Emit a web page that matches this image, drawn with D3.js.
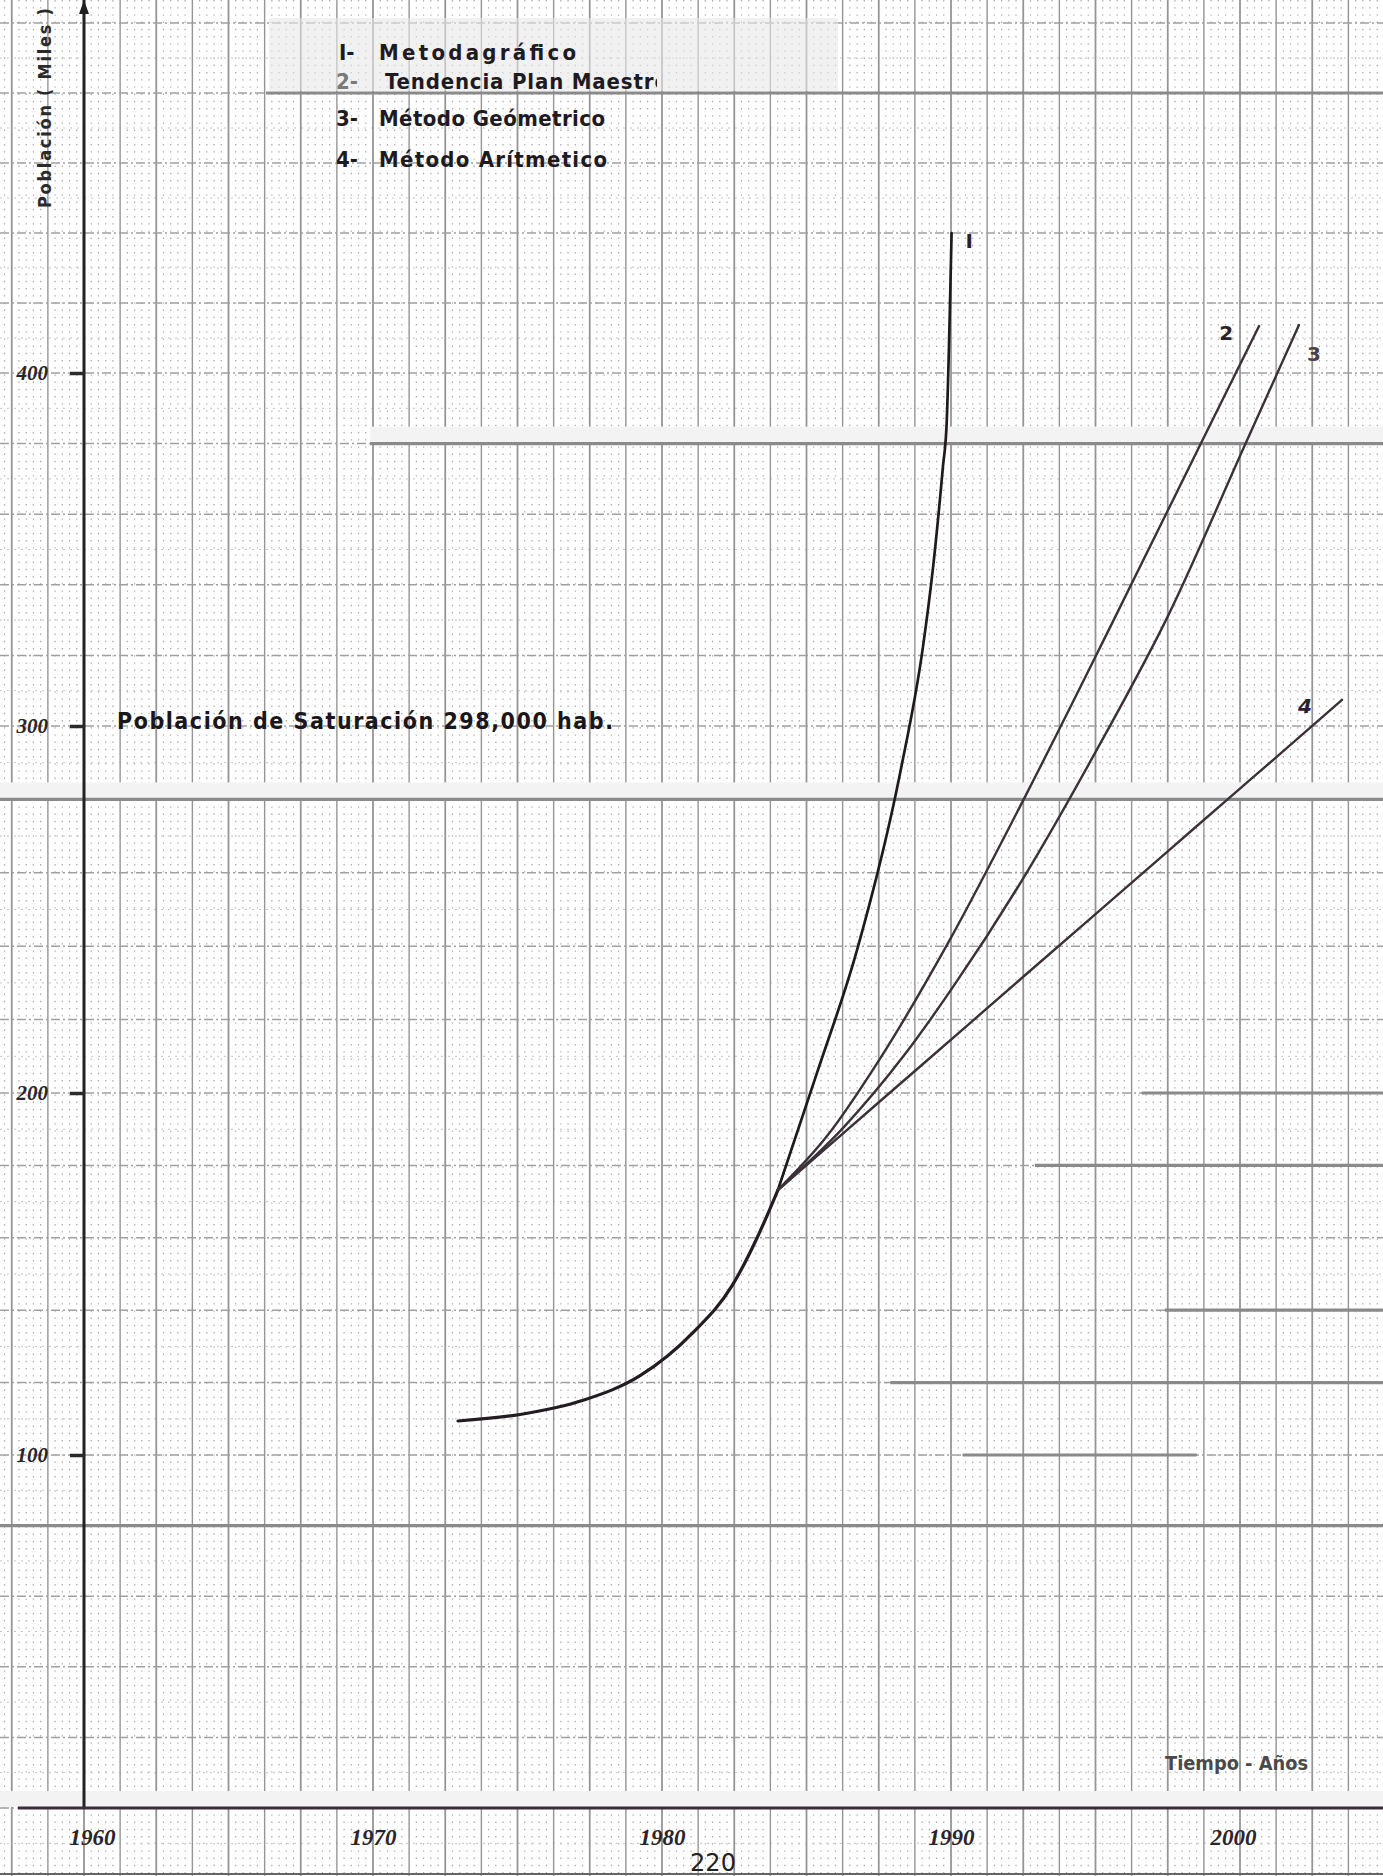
<!DOCTYPE html>
<html>
<head>
<meta charset="utf-8">
<script src="https://cdn.jsdelivr.net/npm/d3@7/dist/d3.min.js"></script>
<style>
  body { margin: 0; background: #fff; }
  svg { display: block; }
</style>
</head>
<body>
<div id="chart"></div>
<script>
// tramo comun (historico) hasta el punto de partida de las proyecciones
const base_years  = [1972.94, 1975.09, 1977.27, 1979.24, 1981.07, 1982.42, 1983.32, 1984.01]
const base_values = [109.4, 111.2, 115.1, 121.9, 133.8, 146.7, 160.5, 173.2]

// 1- Metodo grafico
const m1_years  = [1984.01, 1985.36, 1986.75, 1988.24, 1989.03, 1989.38, 1989.72, 1989.85, 1990.02]
const m1_values = [173.2, 205.4, 239.0, 287.2, 322.4, 345.0, 373.4, 385.8, 440.0]

// 2- Tendencia Plan Maestro
const m2_years  = [1984.01, 1985.71, 1987.54, 1989.90, 1992.56, 1995.61, 1998.62, 2000.66]
const m2_values = [173.2, 188.1, 209.3, 240.9, 280.7, 329.7, 379.6, 413.4]

// 3- Metodo geometrico
const m3_years  = [1984.01, 1986.26, 1988.41, 1990.07, 1992.63, 1994.98, 1997.51, 2000.17, 2002.04]
const m3_values = [173.2, 190.3, 210.6, 228.9, 260.2, 292.6, 331.2, 379.6, 413.7]

// 4- Metodo aritmetico
const m4_years  = [1984.01, 1985.71, 1989.00, 1992.49, 1995.05, 1997.51, 1999.58, 2001.14, 2003.53]
const m4_values = [173.2, 185.0, 207.7, 231.6, 249.1, 265.9, 280.1, 290.7, 307.4]

const x_ticks = [1960, 1970, 1980, 1990, 2000]
const y_ticks = [100, 200, 300, 400]

const legend_nums  = ["I-", "2-", "3-", "4-"]
const legend_texts = ["Metodagráfico", "Tendencia  Plan Maestro", "Método Geómetrico", "Método Arítmetico"]
const curve_labels = ["I", "2", "3", "4"]

// lineas del papel que salieron mas oscuras en el escaneo
const heavy_values = [480, 380, 280, 200, 180, 140, 120, 100, 80]
const heavy_from   = [1966.3, 1969.9, 1955, 1996.6, 1992.9, 1997.4, 1987.9, 1990.4, 1955]
const heavy_to     = [2010, 2010, 2010, 2010, 2010, 2010, 2010, 1998.5, 2010]

const chart = function (id) {
    const width = 1383
    const height = 1876
    const svg = d3.select("#" + id)
        .append("svg")
        .attr("width", width)
        .attr("height", height)

    const layer_bg = svg.append("g")
    const layer_grid = svg.append("g")
    const layer_heavy = svg.append("g")
    const layer_axes = svg.append("g")
    const layer_lines = svg.append("g")
    const layer_text = svg.append("g")

    const x = d3.scaleLinear()
        .domain([1960, 2000])
        .range([84, 1240])

    // papel escaneado: escala por tramos
    const y = d3.scaleLinear()
        .domain([0, 100, 200, 300, 400, 480])
        .range([1808, 1455, 1093, 726, 373, 93])

    layer_bg.append("rect")
        .attr("width", width).attr("height", height)
        .attr("fill", "#fff")

    // ---- papel milimetrado
    const yr_lo = x.invert(0), yr_hi = x.invert(width)
    const v_lo = y.invert(height), v_hi = y.invert(0)
    const major_years = d3.range(Math.ceil(yr_lo / 1.25) * 1.25, yr_hi, 1.25)
    const minor_years = d3.range(Math.ceil(yr_lo * 4) / 4, yr_hi, 0.25)
        .filter(d => Math.abs(d / 1.25 - Math.round(d / 1.25)) > 0.01)
    const major_vals = d3.range(Math.ceil(v_lo / 20) * 20, v_hi, 20)
    const minor_vals = d3.range(Math.ceil(v_lo / 10) * 10, v_hi, 10)
        .filter(d => d % 20 !== 0)

    layer_grid.selectAll(".vmin").data(minor_years).join("line")
        .attr("x1", d => x(d)).attr("x2", d => x(d))
        .attr("y1", 0).attr("y2", height)
        .attr("stroke", "#a8a8a8").attr("stroke-width", 1.2)
        .attr("stroke-dasharray", "1.4,5.8")

    layer_grid.selectAll(".hmin").data(minor_vals).join("line")
        .attr("x1", 0).attr("x2", width)
        .attr("y1", d => y(d)).attr("y2", d => y(d))
        .attr("stroke", "#c2c2c2").attr("stroke-width", 1)
        .attr("stroke-dasharray", "2,5")

    layer_grid.selectAll(".vmaj").data(major_years).join("line")
        .attr("x1", d => x(d)).attr("x2", d => x(d))
        .attr("y1", 0).attr("y2", height)
        .attr("stroke", "#959595")
        .attr("stroke-width", (d, i) => i % 2 ? 1.4 : 1.8)

    layer_grid.selectAll(".hmaj").data(major_vals).join("line")
        .attr("x1", 0).attr("x2", width)
        .attr("y1", d => y(d)).attr("y2", d => y(d))
        .attr("stroke", "#a0a0a0").attr("stroke-width", 1.5)
        .attr("stroke-dasharray", "9,3,2,3")

    // franjas claras del escaneo
    const strips = [380, 280, 0]
    layer_heavy.selectAll(".strip").data(strips).join("rect")
        .attr("x", d => d === 380 ? x(1969.9) : 0)
        .attr("width", width)
        .attr("y", d => y(d) - 17)
        .attr("height", 16)
        .attr("fill", "#f3f3f3")

    // recuadro gris de la leyenda
    layer_heavy.append("rect")
        .attr("x", 269).attr("y", 18)
        .attr("width", 569).attr("height", y(480) - 20)
        .attr("fill", "#e8e8e8").attr("opacity", 0.6)

    layer_heavy.selectAll(".heavy").data(heavy_values).join("line")
        .attr("x1", (d, i) => x(heavy_from[i]))
        .attr("x2", (d, i) => x(heavy_to[i]))
        .attr("y1", d => y(d)).attr("y2", d => y(d))
        .attr("stroke", "#8a8a8a").attr("stroke-width", 3.2)

    // ---- ejes
    const x0 = x(1960)
    layer_axes.append("line")
        .attr("x1", x0).attr("x2", x0)
        .attr("y1", 0).attr("y2", y(0))
        .attr("stroke", "#222").attr("stroke-width", 3)
    layer_axes.append("path")
        .attr("d", `M${x0},0 L${x0 - 5},14 L${x0 + 5},14 Z`)
        .attr("fill", "#222")

    layer_axes.append("line")
        .attr("x1", 18).attr("x2", width)
        .attr("y1", y(0)).attr("y2", y(0))
        .attr("stroke", "#3a2f38").attr("stroke-width", 3.2)

    layer_axes.append("line")
        .attr("x1", 0).attr("x2", width)
        .attr("y1", 1874).attr("y2", 1874)
        .attr("stroke", "#666").attr("stroke-width", 2)

    const hand = "'Liberation Serif', 'DejaVu Serif', serif"

    layer_axes.append("g")
        .attr("transform", `translate(${x0},0)`)
        .call(d3.axisLeft(y).tickValues(y_ticks).tickSize(14).tickPadding(22))
        .call(g => g.select(".domain").remove())
        .call(g => g.selectAll(".tick line")
            .attr("stroke", "#2a2a2a").attr("stroke-width", 3.5))
        .call(g => g.selectAll(".tick text")
            .attr("fill", "#2b2529")
            .style("font-family", hand)
            .style("font-style", "italic")
            .style("font-weight", "bold")
            .style("font-size", "21px"))

    layer_axes.append("g")
        .attr("transform", `translate(0,${y(0)})`)
        .call(d3.axisBottom(x).tickValues(x_ticks).tickSize(0).tickPadding(21)
            .tickFormat(d3.format("d")))
        .call(g => g.select(".domain").remove())
        .call(g => g.selectAll(".tick text")
            .attr("fill", "#2b2529")
            .attr("dx", d => d === 1960 ? 8 : d === 2000 ? -7 : 0)
            .style("font-family", hand)
            .style("font-style", "italic")
            .style("font-weight", "bold")
            .style("font-size", "23px"))

    // ---- curvas
    const zip = (a, b) => a.map((d, i) => [d, b[i]])
    const series = [
        {pts: zip(base_years, base_values), color: "#241c22", w: 3.2},
        {pts: zip(m1_years, m1_values), color: "#1e1a1e", w: 2.7},
        {pts: zip(m2_years, m2_values), color: "#3b3139", w: 2.4},
        {pts: zip(m3_years, m3_values), color: "#3b3139", w: 2.4},
        {pts: zip(m4_years, m4_values), color: "#3b3139", w: 2.4}
    ]
    const line = d3.line()
        .x(d => x(d[0]))
        .y(d => y(d[1]))
        .curve(d3.curveMonotoneX)

    layer_lines.selectAll("path").data(series).join("path")
        .attr("d", d => line(d.pts))
        .attr("fill", "none")
        .attr("stroke", d => d.color)
        .attr("stroke-width", d => d.w)
        .attr("stroke-linecap", "round")

    // etiquetas de curva junto a su extremo
    const label_off = [[14, 15, "start"], [-26, 14, "end"], [8, 36, "start"], [-30, 13, "end"]]
    const ends = series.slice(1).map(s => s.pts[s.pts.length - 1])
    layer_text.selectAll(".clab").data(curve_labels).join("text")
        .attr("x", (d, i) => x(ends[i][0]) + label_off[i][0])
        .attr("y", (d, i) => y(ends[i][1]) + label_off[i][1])
        .attr("text-anchor", (d, i) => label_off[i][2])
        .attr("fill", (d, i) => i === 2 ? "#4a4248" : "#2a2228")
        .style("font-family", "'DejaVu Sans', sans-serif")
        .style("font-weight", "bold")
        .style("font-style", (d, i) => i === 3 ? "italic" : "normal")
        .style("font-size", "20px")
        .text(d => d)

    // ---- leyenda
    const sans = "'DejaVu Sans Condensed', 'DejaVu Sans', sans-serif"
    const leg_base = [60, 89, 126, 167]
    const leg_len = [197, 283, 226, 228]
    const leg_x = [379, 385, 379, 379]

    svg.append("clipPath").attr("id", "legclip")
        .append("rect").attr("x", 0).attr("y", 0).attr("width", 657).attr("height", height)

    layer_text.selectAll(".lnum").data(legend_nums).join("text")
        .attr("x", (d, i) => i === 0 ? 339 : 336)
        .attr("y", (d, i) => leg_base[i])
        .attr("fill", (d, i) => i === 1 ? "#7a7a7a" : "#1f1a1f")
        .style("font-family", sans)
        .style("font-stretch", "condensed")
        .style("font-weight", "bold")
        .style("font-size", "22px")
        .text(d => d)

    layer_text.selectAll(".ltxt").data(legend_texts).join("text")
        .attr("x", (d, i) => leg_x[i])
        .attr("y", (d, i) => leg_base[i])
        .attr("textLength", (d, i) => leg_len[i])
        .attr("lengthAdjust", "spacing")
        .attr("clip-path", (d, i) => i === 1 ? "url(#legclip)" : null)
        .attr("fill", "#1f1a1f")
        .style("font-family", sans)
        .style("font-stretch", "condensed")
        .style("font-weight", "bold")
        .style("font-size", "22px")
        .text(d => d)

    layer_text.append("text")
        .attr("x", 117).attr("y", 729)
        .attr("textLength", 496).attr("lengthAdjust", "spacing")
        .attr("fill", "#1a161a")
        .style("font-family", sans)
        .style("font-stretch", "condensed")
        .style("font-weight", "bold")
        .style("font-size", "23px")
        .text("Población de Saturación 298,000 hab.")

    layer_text.append("text")
        .attr("transform", "translate(51,108) rotate(-90)")
        .attr("text-anchor", "middle")
        .attr("textLength", 200).attr("lengthAdjust", "spacing")
        .attr("fill", "#2a2a2a")
        .style("font-family", sans)
        .style("font-stretch", "condensed")
        .style("font-weight", "bold")
        .style("font-size", "18px")
        .text("Población ( Miles )")

    layer_text.append("text")
        .attr("x", 1165).attr("y", 1770)
        .attr("textLength", 143).attr("lengthAdjust", "spacingAndGlyphs")
        .attr("fill", "#4a4a4a")
        .style("font-family", sans)
        .style("font-stretch", "condensed")
        .style("font-weight", "bold")
        .style("font-size", "20px")
        .text("Tiempo - Años")

    layer_text.append("text")
        .attr("x", 713).attr("y", 1871)
        .attr("text-anchor", "middle")
        .attr("fill", "#222")
        .style("font-family", "'DejaVu Sans', sans-serif")
        .style("font-size", "24px")
        .text("220")
}

chart("chart")
</script>
</body>
</html>
